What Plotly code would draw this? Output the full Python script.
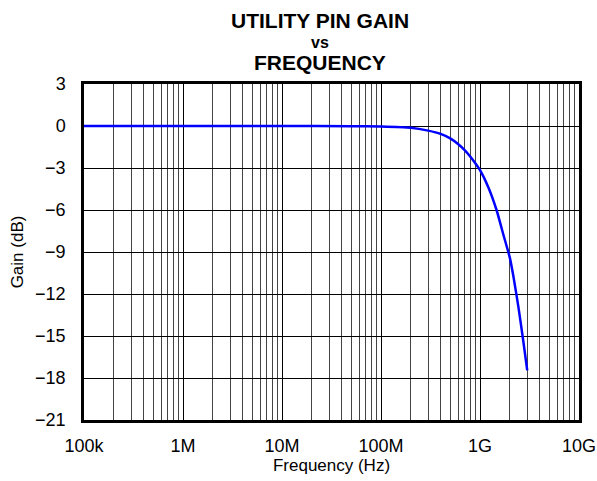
import plotly.graph_objects as go

# gain vs frequency
freq_hz = [1e5, 1e6, 1e7, 5e7, 1e8, 2e8, 3e8, 4e8, 5e8, 6e8, 7e8, 8e8, 9e8, 1e9,
           1.21e9, 1.47e9, 1.72e9, 2e9, 2.17e9, 2.44e9, 2.73e9, 3e9]
gain_db = [0, 0, 0, -0.01, -0.03, -0.12, -0.33, -0.56, -0.88, -1.28, -1.72, -2.2, -2.68, -3.15,
           -4.35, -6.0, -7.75, -9.4, -10.7, -12.9, -15.3, -17.45]

x_tickvals = [1e5, 1e6, 1e7, 1e8, 1e9, 1e10]
x_ticktext = ["100k", "1M", "10M", "100M", "1G", "10G"]
y_tickvals = [3, 0, -3, -6, -9, -12, -15, -18, -21]
y_ticktext = ["3", "0", "\u22123", "\u22126", "\u22129", "\u221212", "\u221215", "\u221218", "\u221221"]

title_lines = ["UTILITY PIN GAIN", "vs", "FREQUENCY"]

FONT = "Liberation Sans, Arial, sans-serif"

fig = go.Figure(
    go.Scatter(
        x=freq_hz,
        y=gain_db,
        mode="lines",
        line=dict(color="#0000ff", width=2.5, shape="spline", smoothing=0.5),
        showlegend=False,
        hoverinfo="skip",
    )
)

axis_common = dict(
    showline=True,
    linecolor="black",
    linewidth=2.5,
    mirror=True,
    showgrid=True,
    gridcolor="black",
    gridwidth=1,
    zeroline=False,
    ticks="",
    automargin=False,
    tickfont=dict(family=FONT, size=18, color="black"),
)

fig.update_layout(
    width=597,
    height=481,
    paper_bgcolor="white",
    plot_bgcolor="white",
    margin=dict(l=84, r=18, t=84, b=61),
    xaxis=dict(
        type="log",
        range=[5, 10],
        tickvals=x_tickvals,
        ticktext=x_ticktext,
        ticklabelstandoff=8,
        title=dict(text="Frequency (Hz)", font=dict(family=FONT, size=17, color="black"), standoff=3),
        minor=dict(showgrid=True, gridcolor="#444444", gridwidth=1, dtick="D1"),
        **axis_common,
    ),
    yaxis=dict(
        range=[-21, 3],
        tickvals=y_tickvals,
        ticktext=y_ticktext,
        ticklabelstandoff=12,
        title=dict(text="Gain (dB)", font=dict(family=FONT, size=17, color="black"), standoff=8),
        **axis_common,
    ),
)

# three-line bold title, tight line spacing like the datasheet figure
title_y = [1.19, 1.125, 1.065]
title_size = [21, 16, 21]
for text, y, size in zip(title_lines, title_y, title_size):
    fig.add_annotation(
        text=text,
        xref="paper",
        yref="paper",
        x=0.477,
        y=y,
        xanchor="center",
        yanchor="middle",
        showarrow=False,
        font=dict(family=FONT, size=size, color="black", weight="bold"),
    )

# drop the default 8px body margin so the figure sits at the page corner
fig.write_html(
    "out.html",
    config={"displayModeBar": False},
    post_script="document.body.style.margin = '0';",
)
